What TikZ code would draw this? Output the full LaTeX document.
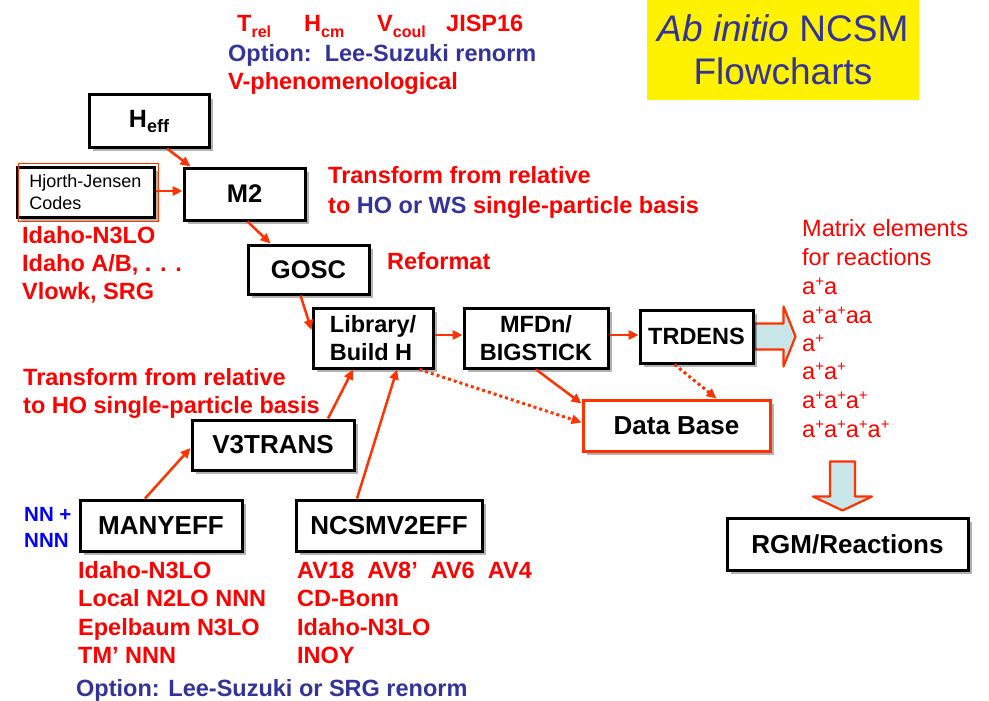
\documentclass[tikz,border=0pt]{standalone}
\usepackage{fontspec}
\setmainfont{Liberation Sans}
\usetikzlibrary{arrows.meta,calc,shadows,backgrounds}
\definecolor{tred}{RGB}{255,0,0}
\definecolor{ared}{RGB}{255,51,0}
\definecolor{dblue}{RGB}{51,51,153}
\definecolor{bblue}{RGB}{0,0,255}
\definecolor{cyanfill}{RGB}{200,230,232}
\newcommand\subtxt[1]{\raisebox{-6pt}{\fontsize{16pt}{16pt}\selectfont #1}}
\newcommand\supplus{\raisebox{8pt}{\fontsize{15pt}{15pt}\selectfont +}}
\begin{document}
\begin{tikzpicture}[x=1pt,y=-1pt,
  box/.style={draw=black,line width=3pt,fill=white,inner sep=0pt,align=center,
    font=\fontsize{26pt}{29pt}\bfseries\selectfont,
    drop shadow={shadow xshift=4pt,shadow yshift=-4pt,fill=black,opacity=0.3}},
  smallbox/.style={box,font=\fontsize{23.5pt}{28.5pt}\bfseries\selectfont},
  conn/.style={draw=ared,line width=2.5pt,-{Triangle[length=10pt,width=9pt]}},
  dconn/.style={conn,line width=3pt,dash pattern=on 3pt off 3pt},
  bred/.style={text=tred,font=\fontsize{23.5pt}{28pt}\bfseries\selectfont,inner sep=0pt,anchor=base west},
  bblu/.style={bred,text=dblue},
  rred/.style={text=tred,font=\fontsize{23.5pt}{28pt}\selectfont,inner sep=0pt,anchor=base west},
  blockarrow/.style={draw=ared,line width=2.2pt,fill=cyanfill,line join=round}
]
\useasboundingbox (0,0) rectangle (989,701);

% title
\node[fill=yellow,minimum width=272pt,minimum height=100pt,inner sep=0pt,align=center,
  text=dblue,font=\fontsize{37pt}{43pt}\selectfont] (title) at (783,50)
  {\textit{Ab initio} NCSM\\Flowcharts};

% top texts
\node[bred] (trel) at (237,32) {T\subtxt{rel}};
\node[bred] (hcm) at (304,32) {H\subtxt{cm}};
\node[bred] (vcoul) at (377,32) {V\subtxt{coul}};
\node[bred] (jisp) at (446,32) {JISP16};
\node[bblu] (opttop) at (228,62) {Option:\ \ Lee-Suzuki renorm};
\node[bred] (vphen) at (228,90) {V-phenomenological};

% boxes
\node[box,minimum width=120pt,minimum height=52pt,font=\fontsize{25pt}{28pt}\bfseries\selectfont] (heff) at (149,121)
  {H\raisebox{-5pt}{\fontsize{18pt}{18pt}\selectfont eff}};
\node[box,minimum width=137pt,minimum height=50pt,align=left,font=\fontsize{18pt}{22pt}\selectfont] (hj) at (85.5,192)
  {Hjorth-Jensen\\Codes};
\draw[ared,line width=1.2pt] ($(hj.north west)+(3,-2)$) rectangle ($(hj.south east)+(3,3)$);
\node[box,minimum width=121pt,minimum height=52pt,font=\fontsize{25.5pt}{28pt}\bfseries\selectfont] (m2) at (244.5,194) {M2};
\node[box,minimum width=121pt,minimum height=49pt,font=\fontsize{25.5pt}{28pt}\bfseries\selectfont] (gosc) at (308.5,269.5) {GOSC};
\node[smallbox,minimum width=120pt,minimum height=60pt,align=left] (lib) at (373,338) {Library/\\Build H};
\node[smallbox,minimum width=144pt,minimum height=60pt] (mfdn) at (536,338) {MFDn/\\BIGSTICK};
\node[smallbox,minimum width=113pt,minimum height=53pt] (trdens) at (696.5,336.5) {TRDENS};
\node[box,draw=ared,minimum width=187pt,minimum height=51pt] (db) at (676.5,425.5) {Data Base};
\node[box,minimum width=162pt,minimum height=50pt] (v3) at (273,445) {V3TRANS};
\node[box,minimum width=162pt,minimum height=51pt] (many) at (161,525.5) {MANYEFF};
\node[box,minimum width=186pt,minimum height=51pt] (ncsm) at (389,525.5) {NCSMV2EFF};
\node[box,minimum width=241pt,minimum height=52pt] (rgm) at (847.5,544) {RGM/Reactions};

% block arrows
\begin{scope}[on background layer]
\fill[white] (0,0) rectangle (989,701);
\draw[blockarrow] ($(trdens.east)+(0,-13)$) -- ++(29,0) -- ++(0,-17) -- ++(12,30)
  -- ++(-12,30) -- ++(0,-17) -- ++(-29,0) -- cycle;
\end{scope}
\draw[blockarrow] ($(rgm.north)+(-17.5,-55)$) -- ++(25,0) -- ++(0,35) -- ++(17,0)
  -- ++(-29.5,14) -- ++(-29.5,-14) -- ++(17,0) -- cycle;

% connectors
\draw[conn] ($(heff.south)+(18,0)$) -- ($(m2.north west)+(8,0)$);
\draw[conn] ($(hj.east)+(0,-1)$) -- ($(m2.west)+(0,-3)$);
\draw[conn] ($(m2.south)+(3,0)$) -- ($(gosc.north west)+(24,0)$);
\draw[conn] ($(gosc.south)+(-8,0)$) -- ($(lib.west)+(0,-8)$);
\draw[conn] ($(lib.east)+(0,-3)$) -- ($(mfdn.west)+(0,-3)$);
\draw[conn] ($(mfdn.east)+(0,-3)$) -- ($(trdens.west)+(0,-1.5)$);
\draw[conn] (mfdn.south) -- ($(db.north west)+(0,5)$);
\draw[dconn] ($(lib.south east)+(-15,0)$) -- ($(db.west)+(0,-3)$);
\draw[dconn] ($(trdens.south)+(-22,0)$) -- ($(db.north)+(40,0)$);
\draw[conn] ($(v3.north)+(55,0)$) -- ($(lib.south)+(-20,0)$);
\draw[conn] ($(ncsm.north)+(-32,0)$) -- ($(lib.south)+(24,0)$);
\draw[conn] ($(many.north)+(-16,0)$) -- ($(v3.west)+(0,3)$);

% side texts
\node[bred] (tr1) at (328,183) {Transform from relative};
\node[bred] (tr2) at (328,213) {to \textcolor{dblue}{HO or WS} single-particle basis};
\node[bred] (reform) at (387,269) {Reformat};
\node[bred] (l1) at (22,243) {Idaho-N3LO};
\node[bred] (l2) at (22,271) {Idaho A/B, . . .};
\node[bred] (l3) at (22,299) {Vlowk, SRG};
\node[bred] (tt1) at (23,385) {Transform from relative};
\node[bred] (tt2) at (23,413) {to HO single-particle basis};
\node[bred,text=bblue,font=\fontsize{20.5pt}{26pt}\bfseries\selectfont] (nn1) at (24,521) {NN +};
\node[bred,text=bblue,font=\fontsize{20.5pt}{26pt}\bfseries\selectfont] (nn2) at (24,547) {NNN};
\node[bred] (m1) at (78,578) {Idaho-N3LO};
\node[bred] (m2t) at (78,606.5) {Local N2LO NNN};
\node[bred] (m3) at (78,635) {Epelbaum N3LO};
\node[bred] (m4) at (78,663.5) {TM’ NNN};
\node[bred] (n1) at (297,578) {AV18\ \ AV8’\ \ AV6\ \ AV4};
\node[bred] (n2) at (297,606.5) {CD-Bonn};
\node[bred] (n3) at (297,635) {Idaho-N3LO};
\node[bred] (n4) at (297,663.5) {INOY};
\node[bblu] (optbot) at (76,696) {Option: Lee-Suzuki or SRG renorm};

% right column
\node[rred] (r1) at (802,236) {Matrix elements};
\node[rred] (r2) at (802,265) {for reactions};
\node[rred] (r3) at (802,294) {a\supplus a};
\node[rred] (r4) at (802,323) {a\supplus a\supplus aa};
\node[rred] (r5) at (802,351) {a\supplus};
\node[rred] (r6) at (802,379) {a\supplus a\supplus};
\node[rred] (r7) at (802,408) {a\supplus a\supplus a\supplus};
\node[rred] (r8) at (802,437) {a\supplus a\supplus a\supplus a\supplus};
\end{tikzpicture}
\end{document}
